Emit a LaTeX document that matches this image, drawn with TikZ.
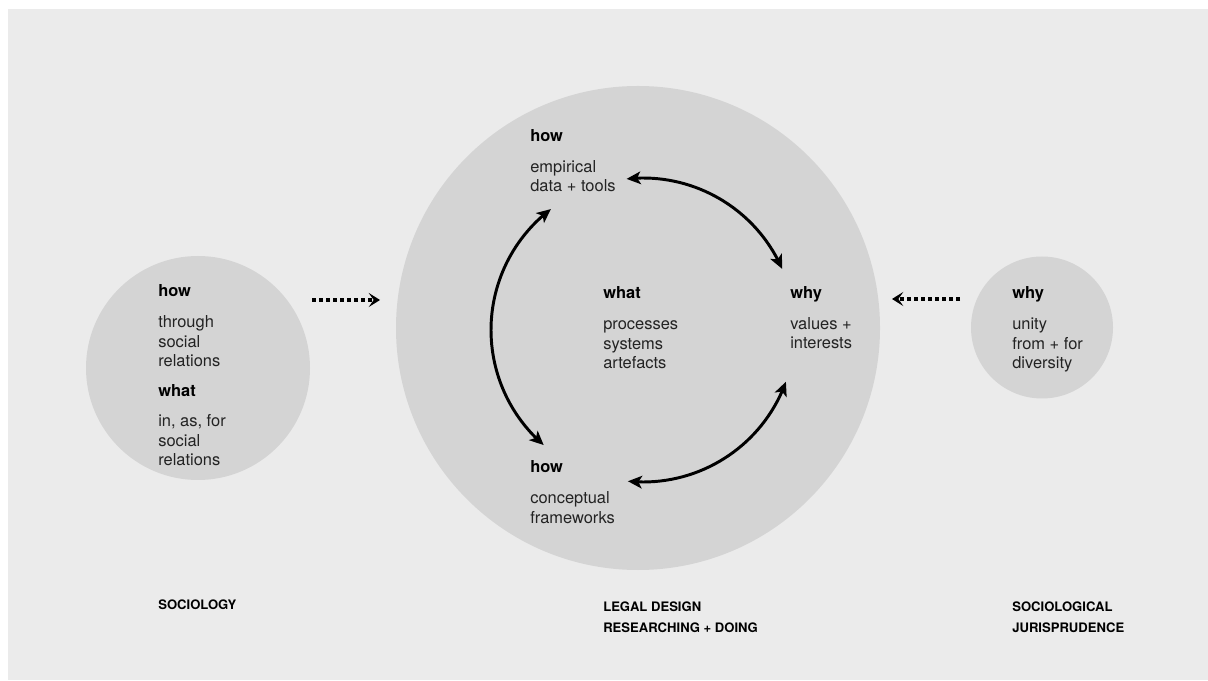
\documentclass[tikz,border=0pt]{standalone}
\usepackage{fontspec}
\setmainfont{TeX Gyre Heros}
\usetikzlibrary{arrows.meta,bending}
\definecolor{bggray}{RGB}{235,235,235}
\definecolor{circgray}{RGB}{212,212,212}
\definecolor{txtgray}{RGB}{35,35,35}
\newcommand{\txtsize}{\fontsize{11.7}{14.2}\selectfont}
\newcommand{\lblsize}{\fontsize{9.3}{14.9}\selectfont}
\tikzset{
  head/.style={font=\txtsize\bfseries, anchor=base west, inner sep=0pt},
  body/.style={font=\txtsize, text=txtgray, align=left, anchor=base west, inner sep=0pt},
  lbl/.style={font=\lblsize\bfseries, align=left, anchor=base west, inner sep=0pt},
  cyc/.style={line width=2.1pt, {Stealth[length=10pt,width=9pt,inset=2.5pt]}-{Stealth[length=10pt,width=9pt,inset=2.5pt]}},
  dotarrow/.style={line width=2.8pt, dash pattern=on 2.8pt off 2.2pt, -{Stealth[length=8pt,width=10pt,inset=3.5pt]}}
}
\begin{document}
\begin{tikzpicture}
        %background
        \useasboundingbox (0,0) rectangle (30.2,17);
        \fill[white] (0,0) rectangle (30.2,17);
        \fill[bggray] (0.2,0) rectangle (30.2,16.775);
        
        %circles
        \fill[circgray] (4.95,7.8) circle (2.8);
        \fill[circgray] (15.95,8.8) circle (6.05);
        \fill[circgray] (26.05,8.8125) circle (1.775);
        
        %sociology (body nodes sit on their last line)
        \node[head] (howsoc) at (3.95,9.575) {how};
        \node[body] (howsoctxt) at (3.95,7.825) {through\\social\\relations};
        \node[head] (whatsoc) at (3.95,7.075) {what};
        \node[body] (whatsoctxt) at (3.95,5.35) {in, as, for\\social\\relations};
        
        %legal design
        \node[head] (howemp) at (13.25,13.45) {how};
        \node[body] (howemptxt) at (13.25,12.2) {empirical\\data + tools};
        \node[head] (whatld) at (15.075,9.525) {what};
        \node[body] (whatldtxt) at (15.075,7.775) {processes\\systems\\artefacts};
        \node[head] (whyld) at (19.75,9.525) {why};
        \node[body] (whyldtxt) at (19.75,8.275) {values +\\interests};
        \node[head] (howcon) at (13.25,5.175) {how};
        \node[body] (howcontxt) at (13.25,3.925) {conceptual\\frameworks};
        
        %sociological jurisprudence
        \node[head] (whysj) at (25.3,9.525) {why};
        \node[body] (whysjtxt) at (25.3,7.775) {unity\\from + for\\diversity};
        
        %labels
        \node[lbl] (socio) at (3.95,1.775) {SOCIOLOGY};
        \node[lbl] (legal) at (15.075,1.2) {LEGAL DESIGN\\RESEARCHING + DOING};
        \node[lbl] (sojur) at (25.3,1.2) {SOCIOLOGICAL\\JURISPRUDENCE};
        
        %cycle
        \coordinate (cc) at (16.075,8.75);
        \path (cc) ++(96.2:3.8) coordinate (toolsend);
        \path (cc) ++(127.3:3.8) coordinate (leftend);
        \path (cc) ++(264.3:3.8) coordinate (frameend);
        \draw[cyc] (toolsend) arc[start angle=96.2, end angle=23.7, radius=3.8];
        \draw[cyc] (leftend) arc[start angle=127.3, end angle=229.2, radius=3.8];
        \draw[cyc] (frameend) arc[start angle=264.3, end angle=340.1, radius=3.8];
        
        %dotted arrows
        \coordinate (socout) at (7.8,9.5);
        \coordinate (ldinl) at (9.5,9.5);
        \coordinate (sjout) at (24.0,9.525);
        \coordinate (ldinr) at (22.3,9.525);
        \draw[dotarrow] (socout) -- (ldinl);
        \draw[dotarrow] (sjout) -- (ldinr);
        
\end{tikzpicture}
\end{document}
